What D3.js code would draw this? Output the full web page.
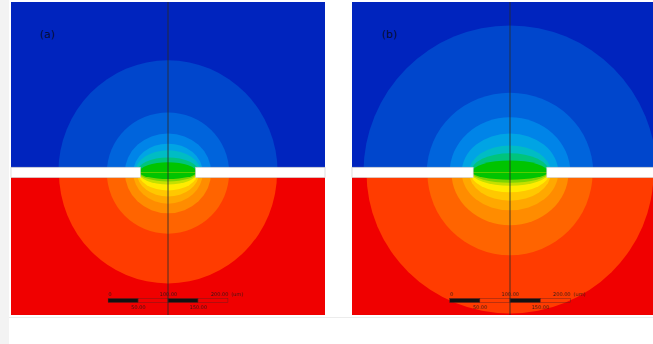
<!DOCTYPE html>
<meta charset="utf-8">
<style>
body { margin: 0; background: #fff; }
text { font-family: "DejaVu Sans", sans-serif; }
</style>
<svg width="653" height="344"></svg>
<script src="https://d3js.org/d3.v7.min.js"></script>
<script>
// field bands, in um (rx = half width, ry = height from slot centre)
var topColors = ["#0046cc", "#0064dc", "#0084e8", "#00a4e4", "#00bcc4", "#00c47c", "#00c400"];
var botColors = ["#ff3c00", "#ff6400", "#ff8c00", "#ffa800", "#ffc800", "#ffec00", "#c4e000", "#7cd400", "#00c400"];
var topBg = "#0024be", botBg = "#f00000";

var topRxA = [183, 102, 72, 58, 55, 52, 48];
var topRyA = [187, 100, 65, 48, 37, 25, 17];
var botRxA = [182, 102, 72, 58, 52, 50, 49, 48, 47];
var botRyA = [185, 102, 68, 52, 40, 30, 20, 15, 11];

var topRxB = [243, 138, 100, 80, 68, 65, 63];
var topRyB = [245, 133, 92, 65, 45, 32, 20];
var botRxB = [238, 137, 97, 80, 68, 66, 64, 63, 62];
var botRyB = [235, 138, 88, 63, 47, 33, 22, 17, 12];

var slotHalfA = 46, slotHalfB = 61, gapHalf = 8.7;
var barTicks = [0, 50, 100, 150, 200];
var barTop = ["0", "100.00", "200.00"], barBottom = ["50.00", "150.00"];

var svg = d3.select("svg");

svg.append("rect").attr("x", 0).attr("y", 0).attr("width", 9).attr("height", 344).attr("fill", "#f3f3f3");
svg.append("line").attr("x1", 9).attr("x2", 653).attr("y1", 317.5).attr("y2", 317.5).attr("stroke", "#ececec");

var panels = [
  {id: "a", label: "(a)", range: [11, 325], labelX: 40, slot: slotHalfA,
   topRx: topRxA, topRy: topRyA, botRx: botRxA, botRy: botRyA},
  {id: "b", label: "(b)", range: [352, 668], labelX: 382, slot: slotHalfB,
   topRx: topRxB, topRy: topRyB, botRx: botRxB, botRy: botRyB}
];

var defs = svg.append("defs");

panels.forEach(function(p) {
  var x = d3.scaleLinear().domain([-262, 262]).range(p.range);
  var y = d3.scaleLinear().domain([-237.5, 284]).range([315, 2]);
  var x0 = p.range[0], w = p.range[1] - p.range[0];

  defs.append("clipPath").attr("id", "top" + p.id).append("rect")
    .attr("x", x0).attr("y", y(284)).attr("width", w).attr("height", y(0) - y(284));
  defs.append("clipPath").attr("id", "bot" + p.id).append("rect")
    .attr("x", x0).attr("y", y(0)).attr("width", w).attr("height", y(-237.5) - y(0));

  var gTop = svg.append("g").attr("clip-path", "url(#top" + p.id + ")");
  gTop.append("rect").attr("x", x0).attr("y", y(284)).attr("width", w).attr("height", y(0) - y(284)).attr("fill", topBg);
  gTop.selectAll("ellipse").data(p.topRx).join("ellipse")
    .attr("cx", x(0)).attr("cy", y(0))
    .attr("rx", function(d) { return x(d) - x(0); })
    .attr("ry", function(d, i) { return y(0) - y(p.topRy[i]); })
    .attr("fill", function(d, i) { return topColors[i]; });

  var gBot = svg.append("g").attr("clip-path", "url(#bot" + p.id + ")");
  gBot.append("rect").attr("x", x0).attr("y", y(0)).attr("width", w).attr("height", y(-237.5) - y(0)).attr("fill", botBg);
  gBot.selectAll("ellipse").data(p.botRx).join("ellipse")
    .attr("cx", x(0)).attr("cy", y(0))
    .attr("rx", function(d) { return x(d) - x(0); })
    .attr("ry", function(d, i) { return y(-p.botRy[i]) - y(0); })
    .attr("fill", function(d, i) { return botColors[i]; });

  // the plate with its slot
  [[-262, -p.slot], [p.slot, 262]].forEach(function(s) {
    svg.append("rect")
      .attr("x", x(s[0])).attr("y", y(gapHalf))
      .attr("width", x(s[1]) - x(s[0])).attr("height", y(-gapHalf) - y(gapHalf))
      .attr("fill", "#fff").attr("stroke", "#c8c8c8").attr("stroke-width", 0.6);
  });

  // scale bar
  var b0 = -100;
  var bar = svg.append("g");
  bar.selectAll("rect").data(barTicks.slice(0, 4)).join("rect")
    .attr("x", function(d) { return x(b0 + d); })
    .attr("y", 298.5)
    .attr("width", x(50) - x(0))
    .attr("height", 4)
    .attr("fill", function(d, i) { return i % 2 ? "none" : "#111"; })
    .attr("stroke", "#5a2020").attr("stroke-width", 0.4);
  bar.selectAll("text.top").data(barTop).join("text").attr("class", "top")
    .attr("x", function(d, i) { return x(b0 + barTicks[i * 2]); })
    .attr("y", 296)
    .attr("text-anchor", function(d, i) { return i == 0 ? "start" : i == 2 ? "end" : "middle"; })
    .attr("font-size", 5).attr("fill", "#3a1a1a")
    .text(function(d) { return d; });
  bar.append("text").attr("x", x(b0 + 200) + 3).attr("y", 296)
    .attr("font-size", 5).attr("fill", "#3a1a1a").text("(um)");
  bar.selectAll("text.bot").data(barBottom).join("text").attr("class", "bot")
    .attr("x", function(d, i) { return x(b0 + barTicks[i * 2 + 1]); })
    .attr("y", 309)
    .attr("text-anchor", "middle")
    .attr("font-size", 5).attr("fill", "#3a1a1a")
    .text(function(d) { return d; });

  // centre line
  svg.append("line")
    .attr("x1", x(0)).attr("x2", x(0)).attr("y1", y(284)).attr("y2", y(-237.5))
    .attr("stroke", "#2a2a2a").attr("stroke-width", 1).attr("opacity", 0.85);

  svg.append("text").attr("x", p.labelX).attr("y", 38)
    .attr("font-size", 11).attr("fill", "#080c36")
    .text(p.label);
});
</script>
